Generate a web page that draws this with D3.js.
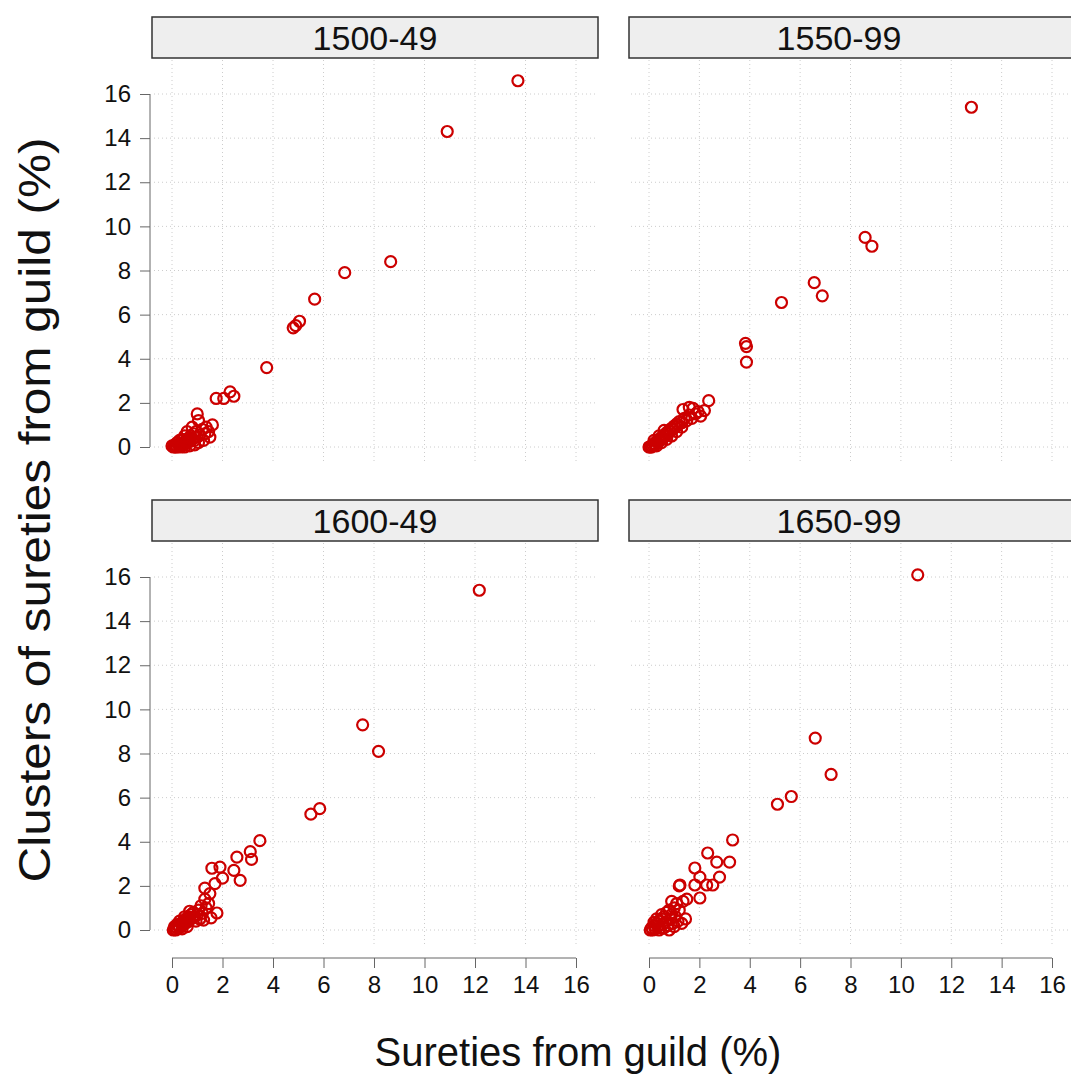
<!DOCTYPE html>
<html>
<head>
<meta charset="utf-8">
<script src="https://cdn.jsdelivr.net/npm/d3@7"></script>
<style>
  body { margin: 0; background: #fff; }
  svg { font-family: "Liberation Sans", Arial, sans-serif; }
</style>
</head>
<body>
<div id="chart"></div>
<script>
// period labels for the four panels
var periods = ["1500-49", "1550-99", "1600-49", "1650-99"];
var tickValues = [0, 2, 4, 6, 8, 10, 12, 14, 16];

// sureties from guild (%) -> x, clusters of sureties from guild (%) -> y
var guild1500 = [0.05, 0.1, 0.15, 0.2, 0.25, 0.3, 0.35, 0.4, 0.45, 0.5, 0.55, 0.6, 0.65, 0.7, 0.75, 0.8, 0.85, 0.9, 0.95, 1.0, 1.05, 1.1, 1.2, 1.3, 1.35, 1.45, 1.6, 1.0, 1.05, 0.8, 0.6, 0.5, 0.4, 0.3, 0.2, 0.1, 0.15, 0.35, 0.5, 0.7, 0.9, 1.25, 1.5, 0.0,
  1.75, 2.05, 2.3, 2.45, 3.75, 4.8, 4.9, 5.05, 5.65, 6.84, 8.66, 10.9, 13.7];
var cluster1500 = [0.0, 0.02, 0.05, 0.0, 0.1, 0.05, 0.15, 0.1, 0.2, 0.12, 0.3, 0.2, 0.4, 0.25, 0.5, 0.35, 0.6, 0.3, 0.7, 0.45, 0.2, 0.55, 0.8, 0.6, 0.9, 0.7, 1.0, 1.5, 1.2, 0.9, 0.7, 0.5, 0.35, 0.3, 0.2, 0.1, 0.0, 0.0, 0.0, 0.05, 0.1, 0.3, 0.45, 0.05,
  2.2, 2.2, 2.5, 2.3, 3.6, 5.4, 5.5, 5.7, 6.7, 7.9, 8.4, 14.3, 16.6];

var guild1550 = [0.05, 0.1, 0.15, 0.2, 0.25, 0.3, 0.35, 0.4, 0.45, 0.5, 0.55, 0.6, 0.65, 0.7, 0.75, 0.8, 0.85, 0.9, 0.95, 1.0, 1.05, 1.1, 1.15, 1.2, 1.3, 1.4, 1.5, 1.6, 1.7, 1.75, 1.85, 1.95, 2.05, 2.2, 2.37, 1.35, 1.6, 0.3, 0.5, 0.7, 0.9, 1.1, 1.3, 0.2, 0.4, 0.6, 0.1, 0.0,
  3.83, 3.87, 3.87, 5.26, 6.56, 6.88, 8.58, 8.85, 12.8];
var cluster1550 = [0.0, 0.05, 0.1, 0.15, 0.1, 0.25, 0.2, 0.35, 0.3, 0.45, 0.4, 0.55, 0.5, 0.65, 0.6, 0.75, 0.7, 0.85, 0.8, 0.95, 0.9, 1.05, 1.0, 1.15, 1.1, 1.3, 1.2, 1.45, 1.3, 1.75, 1.5, 1.6, 1.4, 1.65, 2.1, 1.7, 1.8, 0.05, 0.2, 0.35, 0.5, 0.7, 0.9, 0.3, 0.5, 0.75, 0.0, 0.0,
  4.7, 4.55, 3.85, 6.55, 7.45, 6.85, 9.5, 9.1, 15.4];

var guild1600 = [0.05, 0.1, 0.15, 0.2, 0.25, 0.3, 0.35, 0.4, 0.45, 0.5, 0.55, 0.6, 0.65, 0.7, 0.75, 0.8, 0.85, 0.9, 0.95, 1.0, 1.05, 1.1, 1.15, 1.2, 1.3, 1.35, 1.45, 1.5, 1.55, 1.78, 1.3, 1.58, 1.9, 2.0, 1.7, 0.2, 0.4, 0.6, 0.3, 0.5, 0.7, 1.25, 0.1,
  2.45, 2.57, 2.7, 3.1, 3.15, 3.48, 5.5, 5.85, 7.55, 8.18, 12.17];
var cluster1600 = [0.0, 0.05, 0.0, 0.1, 0.2, 0.1, 0.3, 0.2, 0.4, 0.3, 0.5, 0.35, 0.6, 0.45, 0.7, 0.55, 0.8, 0.6, 0.4, 0.7, 0.9, 0.5, 1.1, 0.75, 1.4, 1.0, 1.2, 1.65, 0.55, 0.77, 1.9, 2.8, 2.85, 2.35, 2.1, 0.25, 0.05, 0.15, 0.4, 0.6, 0.85, 0.45, 0.15,
  2.7, 3.3, 2.25, 3.55, 3.2, 4.05, 5.25, 5.5, 9.3, 8.1, 15.4];

var guild1650 = [0.05, 0.1, 0.15, 0.2, 0.25, 0.3, 0.35, 0.4, 0.45, 0.5, 0.55, 0.6, 0.65, 0.7, 0.75, 0.8, 0.85, 0.9, 0.95, 1.0, 1.05, 1.1, 1.15, 1.2, 1.3, 1.35, 1.45, 1.2, 1.5, 0.3, 0.5, 0.2, 0.4, 0.6, 0.8, 1.0, 0.9,
  1.23, 1.82, 2.29, 2.53, 2.02, 1.82, 2.02, 2.8, 2.33, 2.69, 3.2, 3.32, 5.1, 5.65, 6.6, 7.23, 10.67];
var cluster1650 = [0.0, 0.1, 0.0, 0.2, 0.05, 0.3, 0.15, 0.4, 0.1, 0.5, 0.25, 0.6, 0.35, 0.8, 0.2, 0.9, 0.5, 0.7, 0.3, 1.0, 0.6, 1.2, 0.4, 0.9, 0.3, 1.3, 0.5, 2.0, 1.4, 0.5, 0.7, 0.35, 0.0, 0.1, 0.0, 0.15, 1.3,
  2.04, 2.04, 2.04, 2.04, 1.45, 2.81, 2.4, 2.4, 3.49, 3.08, 3.08, 4.08, 5.7, 6.05, 8.7, 7.05, 16.1];

var guildSeries = [guild1500, guild1550, guild1600, guild1650];
var clusterSeries = [cluster1500, cluster1550, cluster1600, cluster1650];

var width = 1071, height = 1075;
var svg = d3.select("#chart").append("svg")
  .attr("width", width)
  .attr("height", height);

// panel geometry: position of value 0 and 16 on each axis
var cols = [{x0: 172, x16: 576, left: 152, right: 598},
            {x0: 649, x16: 1052, left: 629, right: 1075}];
var rows = [{y0: 447, y16: 94, stripTop: 17, bottom: 462},
            {y0: 930, y16: 577, stripTop: 500, bottom: 945}];
var stripH = 41;

periods.forEach(function (p, i) {
  var c = cols[i % 2], r = rows[Math.floor(i / 2)];
  var x = d3.scaleLinear().domain([0, 16]).range([c.x0, c.x16]);
  var y = d3.scaleLinear().domain([0, 16]).range([r.y0, r.y16]);
  var g = svg.append("g").attr("class", "panel");
  var panelTop = r.stripTop + stripH;

  // dotted grid
  g.selectAll(".vgrid").data(tickValues).enter().append("line")
    .attr("class", "vgrid")
    .attr("x1", function (d) { return x(d); })
    .attr("x2", function (d) { return x(d); })
    .attr("y1", panelTop + 2).attr("y2", r.bottom)
    .attr("stroke", "#cccccc").attr("stroke-width", 1)
    .attr("stroke-dasharray", "1,3");
  g.selectAll(".hgrid").data(tickValues).enter().append("line")
    .attr("class", "hgrid")
    .attr("y1", function (d) { return y(d); })
    .attr("y2", function (d) { return y(d); })
    .attr("x1", c.left + 2).attr("x2", c.right - 2)
    .attr("stroke", "#cccccc").attr("stroke-width", 1)
    .attr("stroke-dasharray", "1,3");

  // strip
  g.append("rect")
    .attr("x", c.left).attr("y", r.stripTop)
    .attr("width", c.right - c.left).attr("height", stripH)
    .attr("fill", "#eeeeee").attr("stroke", "#333").attr("stroke-width", 1.5);
  g.append("text")
    .attr("x", (c.left + c.right) / 2 - (i % 2 ? 13 : 0))
    .attr("y", r.stripTop + stripH / 2)
    .attr("dy", "0.36em")
    .attr("text-anchor", "middle")
    .attr("font-size", 34)
    .attr("fill", "#111")
    .text(p);

  // y axis on left column
  if (i % 2 === 0) {
    var yAxis = d3.axisLeft(y).tickValues(tickValues).tickSize(10).tickPadding(9);
    var ya = g.append("g").attr("transform", "translate(150,0)").call(yAxis);
    ya.select(".domain").attr("d", "M0," + y(16) + "V" + y(0)).attr("stroke", "#666");
    ya.selectAll(".tick line").attr("stroke", "#666");
    ya.selectAll(".tick text").attr("font-size", 24).attr("fill", "#111")
      .attr("font-family", "Liberation Sans, Arial, sans-serif");
  }
  // x axis on bottom row
  if (i >= 2) {
    var xAxis = d3.axisBottom(x).tickValues(tickValues).tickSize(10).tickPadding(8);
    var xa = g.append("g").attr("transform", "translate(0,958)").call(xAxis);
    xa.select(".domain").attr("d", "M" + x(0) + ",0H" + x(16)).attr("stroke", "#666");
    xa.selectAll(".tick line").attr("stroke", "#666");
    xa.selectAll(".tick text").attr("font-size", 24).attr("fill", "#111")
      .attr("font-family", "Liberation Sans, Arial, sans-serif");
  }

  // points
  var pts = guildSeries[i].map(function (v, k) { return [v, clusterSeries[i][k]]; });
  g.selectAll(".pt").data(pts).enter().append("circle")
    .attr("class", "pt")
    .attr("cx", function (d) { return x(d[0]); })
    .attr("cy", function (d) { return y(d[1]); })
    .attr("r", 5.5)
    .attr("fill", "none")
    .attr("stroke", "#cc0000")
    .attr("stroke-width", 2.2);
});

// axis titles
svg.append("text")
  .attr("x", 578).attr("y", 1066)
  .attr("text-anchor", "middle")
  .attr("font-size", 40)
  .attr("fill", "#111")
  .text("Sureties from guild (%)");
svg.append("text")
  .attr("transform", "translate(50,510) rotate(-90)")
  .attr("text-anchor", "middle")
  .attr("font-size", 45)
  .attr("textLength", 745)
  .attr("lengthAdjust", "spacingAndGlyphs")
  .attr("fill", "#111")
  .text("Clusters of sureties from guild (%)");
</script>
</body>
</html>
